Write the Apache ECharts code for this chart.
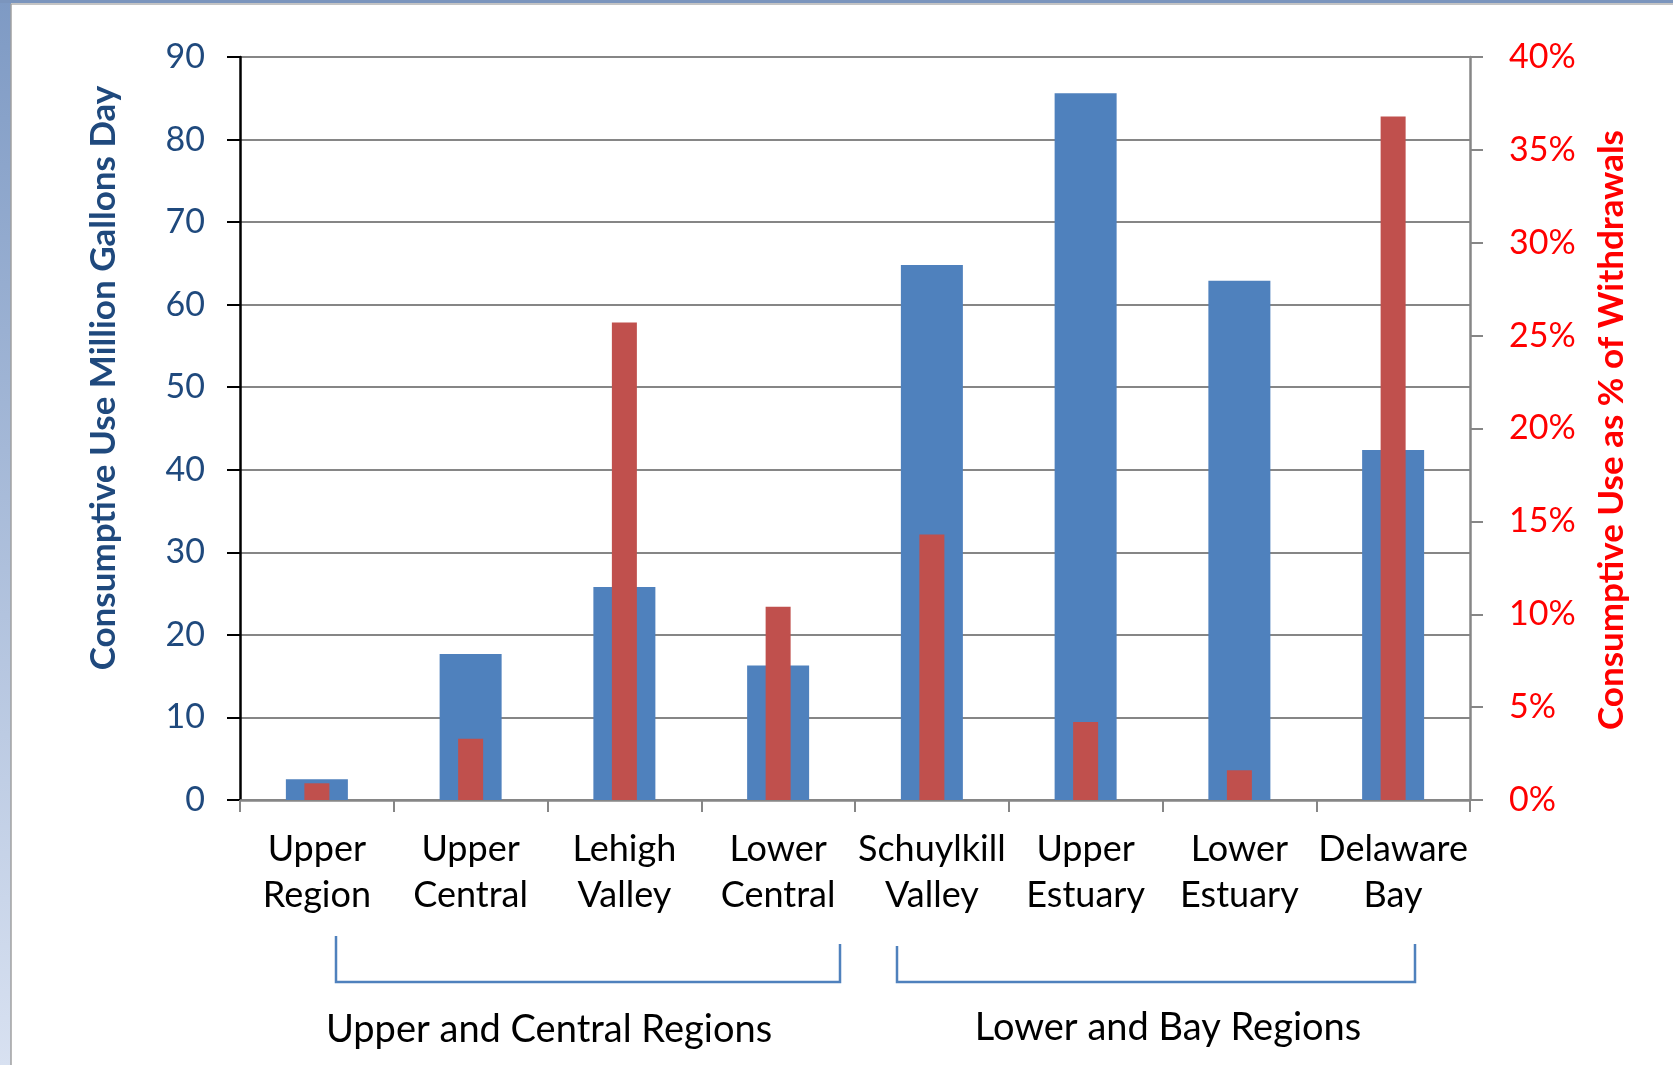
<!DOCTYPE html>
<html>
<head>
<meta charset="utf-8">
<script src="https://cdn.jsdelivr.net/npm/echarts@6/dist/echarts.min.js"></script>
<style>
html,body{margin:0;padding:0;background:#fff;}
#chart{width:1673px;height:1065px;}
</style>
</head>
<body>
<div id="chart"></div>
<script>
// ---- data ----
const categories = ['Upper\nRegion','Upper\nCentral','Lehigh\nValley','Lower\nCentral','Schuylkill\nValley','Upper\nEstuary','Lower\nEstuary','Delaware\nBay'];
const consumptiveUse = [2.5, 17.7, 25.8, 16.3, 64.8, 85.6, 62.9, 42.4];          // million gallons/day
const pctOfWithdrawals = [0.9, 3.3, 25.7, 10.4, 14.3, 4.2, 1.6, 36.8];             // percent
const leftTicks = {min: 0, max: 90, interval: 10};
const rightTicks = {min: 0, max: 40, interval: 5};
const leftTitle = 'Consumptive Use Million Gallons Day';
const rightTitle = 'Consumptive Use as % of Withdrawals';
const groupLabels = ['Upper and Central Regions', 'Lower and Bay Regions'];

const FONT = 'Lato, "Open Sans", sans-serif';
const chart = echarts.init(document.getElementById('chart'), null, {renderer: 'canvas'});

const option = {
  animation: false,
  backgroundColor: '#fff',
  grid: {left: 240, right: 203, top: 57, bottom: 265, containLabel: false},
  xAxis: [
    {
      type: 'category', data: categories, position: 'bottom',
      axisLine: {lineStyle: {color: '#868686', width: 2.5}},
      axisTick: {show: true, length: 12, lineStyle: {color: '#868686', width: 2}},
      axisLabel: {color: '#000', fontFamily: FONT, fontSize: 36, lineHeight: 46, margin: 26, interval: 0},
      splitLine: {show: false}
    },
    {
      type: 'category', data: categories, show: false
    }
  ],
  yAxis: [
    {
      type: 'value', min: leftTicks.min, max: leftTicks.max, interval: leftTicks.interval, position: 'left',
      axisLine: {show: true, lineStyle: {color: '#000', width: 2.5}},
      axisTick: {show: true, length: 13, lineStyle: {color: '#000', width: 2}},
      axisLabel: {color: '#1F497D', fontFamily: FONT, fontSize: 34, margin: 35},
      splitLine: {show: true, lineStyle: {color: '#868686', width: 2}}
    },
    {
      type: 'value', min: rightTicks.min, max: rightTicks.max, interval: rightTicks.interval, position: 'right',
      axisLine: {show: true, lineStyle: {color: '#868686', width: 2.5}},
      axisTick: {show: true, length: 13, lineStyle: {color: '#868686', width: 2}},
      axisLabel: {color: '#FF0000', fontFamily: FONT, fontSize: 34, margin: 39, formatter: v => v + '%'},
      splitLine: {show: false}
    }
  ],
  series: [
    {
      type: 'bar', name: 'Consumptive Use', xAxisIndex: 0, yAxisIndex: 0,
      data: consumptiveUse, barWidth: 62,
      itemStyle: {color: '#4F81BD'}
    },
    {
      type: 'bar', name: '% of Withdrawals', xAxisIndex: 1, yAxisIndex: 1,
      data: pctOfWithdrawals, barWidth: 25,
      itemStyle: {color: '#C0504D'}
    }
  ],
  graphic: [
    // slide frame
    {type: 'rect', left: 0, top: 0, z: 100, shape: {width: 11, height: 1065},
     style: {fill: new echarts.graphic.LinearGradient(0, 0, 0, 1, [{offset: 0, color: '#7E9AC4'}, {offset: 1, color: '#D8E1F1'}])}},
    {type: 'rect', left: 0, top: 0, z: 100, shape: {width: 1673, height: 3}, style: {fill: '#7B95BD'}},
    {type: 'line', z: 100, shape: {x1: 11, y1: 4, x2: 1673, y2: 4}, style: {stroke: '#B0B0B0', lineWidth: 1.5}},
    {type: 'line', z: 100, shape: {x1: 11, y1: 4, x2: 11, y2: 1065}, style: {stroke: '#A0A0A0', lineWidth: 1.5}},
    // axis titles
    {type: 'text', x: 104, y: 378, rotation: Math.PI / 2, z: 50,
     style: {text: leftTitle, fill: '#1F497D', font: 'bold 35px ' + FONT, textAlign: 'center', textVerticalAlign: 'middle'}},
    {type: 'text', x: 1612, y: 430, rotation: Math.PI / 2, z: 50,
     style: {text: rightTitle, fill: '#FF0000', font: 'bold 35px ' + FONT, textAlign: 'center', textVerticalAlign: 'middle'}},
    // group brackets
    {type: 'polyline', z: 50, shape: {points: [[336, 936], [336, 982], [840, 982], [840, 944]]},
     style: {stroke: '#4F81BD', lineWidth: 2.5, fill: null}},
    {type: 'polyline', z: 50, shape: {points: [[897, 946], [897, 982], [1415, 982], [1415, 944]]},
     style: {stroke: '#4F81BD', lineWidth: 2.5, fill: null}},
    {type: 'text', x: 549, y: 1030, z: 50,
     style: {text: groupLabels[0], fill: '#000', font: '38px ' + FONT, textAlign: 'center', textVerticalAlign: 'middle'}},
    {type: 'text', x: 1168, y: 1028, z: 50,
     style: {text: groupLabels[1], fill: '#000', font: '38px ' + FONT, textAlign: 'center', textVerticalAlign: 'middle'}}
  ]
};
chart.setOption(option);
</script>
</body>
</html>
